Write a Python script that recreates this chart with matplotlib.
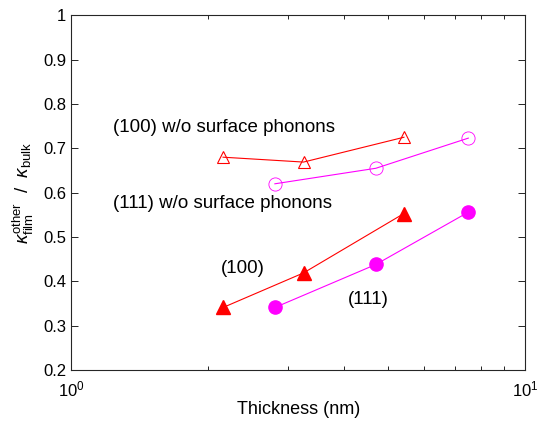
import numpy as np
import matplotlib
matplotlib.use('Agg')
import matplotlib.pyplot as plt
from matplotlib.ticker import NullFormatter

plt.rcParams['font.family'] = ['Liberation Sans', 'DejaVu Sans']
plt.rcParams['mathtext.fontset'] = 'custom'
plt.rcParams['mathtext.rm'] = 'Liberation Sans'
plt.rcParams['mathtext.it'] = 'Liberation Sans:italic'

# film thickness (nm) for the two orientations
t_100 = [2.16, 3.25, 5.41]
t_111 = [2.81, 4.69, 7.50]

# normalised thermal conductivity
k_100 = [0.341, 0.419, 0.553]
k_111 = [0.341, 0.438, 0.556]
k_100_nosurf = [0.680, 0.669, 0.725]
k_111_nosurf = [0.620, 0.655, 0.723]

fig = plt.figure(figsize=(5.39, 4.22), dpi=100)
ax = fig.add_axes([0.1323, 0.1232, 0.8417, 0.8405])

red = '#ff0000'
mag = '#ff00ff'

ax.plot(t_100, k_100_nosurf, '-^', color=red, lw=0.8, ms=9, mfc='none', mew=0.8)
ax.plot(t_111, k_111_nosurf, '-o', color=mag, lw=0.8, ms=9.5, mfc='none', mew=0.6)
ax.plot(t_100, k_100, '-^', color=red, lw=0.8, ms=10, mfc=red)
ax.plot(t_111, k_111, '-o', color=mag, lw=0.8, ms=9.5, mfc=mag)

fs = 13.5
ax.text(1.234, 0.7465, '(100) w/o surface phonons', fontsize=fs, va='center')
ax.text(1.234, 0.576, '(111) w/o surface phonons', fontsize=fs, va='center')
ax.text(2.14, 0.4285, '(100)', fontsize=fs, va='center')
ax.text(4.07, 0.36, '(111)', fontsize=fs, va='center')

ax.set_xscale('log')
ax.set_xlim(1, 10)
ax.set_ylim(0.2, 1)
ax.xaxis.set_minor_formatter(NullFormatter())
ax.set_yticks(np.arange(0.2, 1.01, 0.1))
ax.set_yticklabels(['0.2', '0.3', '0.4', '0.5', '0.6', '0.7', '0.8', '0.9', '1'])

ax.tick_params(which='both', direction='in', top=True, right=True, labelsize=12, width=0.6)
ax.tick_params(which='major', length=5)
ax.tick_params(which='minor', length=3)
ax.tick_params(axis='x', pad=7)
for s in ax.spines.values():
    s.set_linewidth(0.8)
    s.set_color('#262626')

ax.set_xlabel('Thickness (nm)', fontsize=13, labelpad=1)
ax.set_ylabel(r'$\kappa_{\rm film}^{\rm other}$  /  $\kappa_{\rm bulk}$', fontsize=13.5, labelpad=5)

fig.savefig('out.png', dpi=100)
